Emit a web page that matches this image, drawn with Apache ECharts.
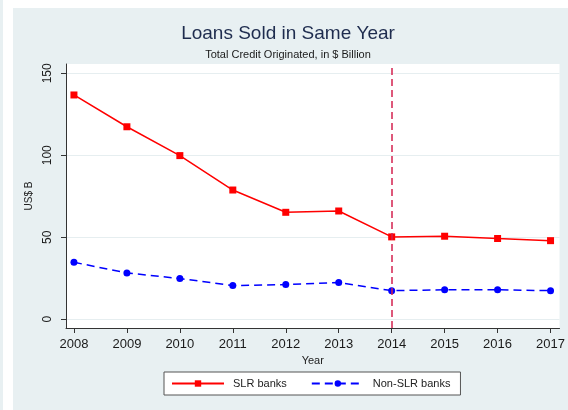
<!DOCTYPE html>
<html><head><meta charset="utf-8">
<script src="https://cdn.jsdelivr.net/npm/echarts@6/dist/echarts.min.js"></script>
<style>html,body{margin:0;padding:0;background:#fff}#c{width:568px;height:410px}</style>
</head><body><div id="c"></div>
<script>
const years = [2008, 2009, 2010, 2011, 2012, 2013, 2014, 2015, 2016, 2017];
const slrBanks = [136.8, 117.4, 99.8, 78.8, 65.2, 66.0, 50.2, 50.6, 49.2, 47.9];
const nonSlrBanks = [34.7, 28.2, 24.8, 20.5, 21.1, 22.3, 17.4, 17.9, 17.9, 17.4];
const yTicks = [0, 50, 100, 150];
const markYear = 2014;

const font = 'Liberation Sans, Arial, sans-serif';
const chart = echarts.init(document.getElementById('c'));
chart.setOption({
  animation: false,
  backgroundColor: '#ffffff',
  graphic: [
    {type: 'rect', shape: {x: 13, y: 8, width: 555, height: 402}, style: {fill: '#e8f0f2'}, z: -10},
    {type: 'rect', shape: {x: 0, y: 0, width: 3, height: 410}, style: {fill: '#e8f0f2'}, z: -10}
  ],
  title: {
    text: 'Loans Sold in Same Year',
    subtext: 'Total Credit Originated, in $ Billion',
    left: 288, textAlign: 'center', top: 24, padding: 0, itemGap: 6,
    textStyle: {fontFamily: font, fontSize: 19, fontWeight: 'normal', color: '#1e2c4e'},
    subtextStyle: {fontFamily: font, fontSize: 11, color: '#1a1a1a'}
  },
  legend: {
    left: 164, top: 372,
    padding: [6, 10, 6, 7],
    itemGap: 24, itemWidth: 52, itemHeight: 8,
    backgroundColor: '#ffffff', borderColor: '#555', borderWidth: 1, borderRadius: 0,
    textStyle: {fontFamily: font, fontSize: 11, color: '#222', padding: [0, 0, 0, 4]},
    data: ['SLR banks', 'Non-SLR banks']
  },
  grid: {left: 66, top: 64, right: 8, bottom: 82, show: true, backgroundColor: '#ffffff', borderWidth: 0},
  xAxis: {
    type: 'value', min: 2007.85, max: 2017.17,
    name: 'Year', nameLocation: 'middle', nameGap: 24,
    nameTextStyle: {fontFamily: font, fontSize: 11, color: '#222'},
    axisLine: {show: true, onZero: false, lineStyle: {color: '#333', width: 1}},
    axisTick: {show: true, customValues: years, length: 5, lineStyle: {color: '#333'}},
    axisLabel: {customValues: years, fontFamily: font, fontSize: 13, color: '#1a1a1a', margin: 10, formatter: v => String(v)},
    splitLine: {show: false}
  },
  yAxis: {
    type: 'value', min: -5.4, max: 155.7,
    name: 'US$ B', nameLocation: 'middle', nameGap: 31, nameRotate: 90,
    nameTextStyle: {fontFamily: font, fontSize: 10, color: '#222'},
    axisLine: {show: true, lineStyle: {color: '#333', width: 1}},
    axisTick: {show: true, customValues: yTicks, length: 5, lineStyle: {color: '#333'}},
    axisLabel: {customValues: yTicks, rotate: 90, fontFamily: font, fontSize: 12, color: '#1a1a1a', margin: 12},
    splitLine: {show: true, lineStyle: {color: '#e6eef0', width: 1}}
  },
  series: [
    {
      name: 'SLR banks', type: 'line',
      data: years.map((y, i) => [y, slrBanks[i]]),
      symbol: 'rect', symbolSize: 7,
      itemStyle: {color: '#ff0000'},
      lineStyle: {color: '#ff0000', width: 1.5},
      markLine: {
        silent: true, symbol: 'none', label: {show: false},
        lineStyle: {color: '#d4224f', type: [7, 4], width: 1.5},
        data: [{xAxis: markYear}]
      },
      z: 3
    },
    {
      name: 'Non-SLR banks', type: 'line',
      data: years.map((y, i) => [y, nonSlrBanks[i]]),
      symbol: 'circle', symbolSize: 7,
      itemStyle: {color: '#0000ff'},
      lineStyle: {color: '#0000ff', width: 1.5, type: [8, 5]},
      z: 3
    }
  ]
});
</script></body></html>
